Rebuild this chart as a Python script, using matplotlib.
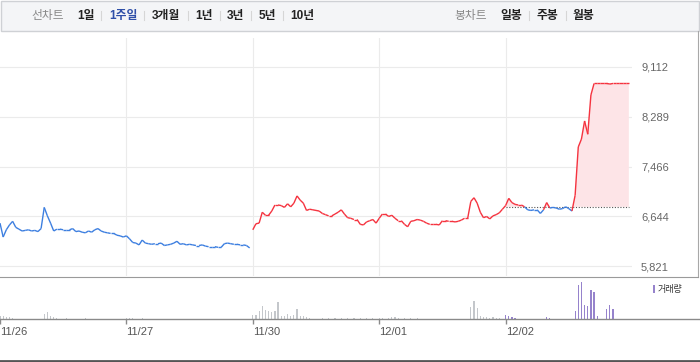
import matplotlib
matplotlib.use('Agg')
import matplotlib.pyplot as plt
import numpy as np
from matplotlib.collections import LineCollection
from matplotlib.patches import Rectangle

plt.rcParams['font.family'] = ['Liberation Sans', 'Noto Sans CJK KR']

# ---- data (one price / volume per 10 min, 40 points a day) ----
dates = ['11/26', '11/27', '11/30', '12/01', '12/02']

price_1126 = [6530, 6300, 6420, 6500, 6560, 6460, 6430, 6400, 6410, 6420,
              6400, 6410, 6390, 6440, 6790, 6650, 6530, 6400, 6430, 6430,
              6420, 6420, 6420, 6440, 6390, 6400, 6380, 6370, 6400, 6380,
              6420, 6440, 6400, 6380, 6370, 6360, 6360, 6330, 6320, 6300]
price_1127 = [6320, 6270, 6210, 6200, 6170, 6250, 6200, 6190, 6180, 6190,
              6190, 6200, 6160, 6170, 6180, 6200, 6230, 6180, 6190, 6170,
              6180, 6170, 6160, 6160, 6170, 6150, 6140, 6140, 6140, 6130,
              6130, 6190, 6200, 6190, 6180, 6180, 6170, 6170, 6160, 6120]
price_1130 = [6420, 6520, 6530, 6710, 6660, 6660, 6730, 6830, 6830, 6820,
              6790, 6850, 6800, 6860, 6980, 6910, 6860, 6740, 6760, 6750,
              6740, 6730, 6690, 6670, 6650, 6650, 6680, 6710, 6750, 6680,
              6620, 6610, 6590, 6590, 6510, 6500, 6550, 6570, 6590, 6530]
price_1201 = [6610, 6680, 6680, 6640, 6660, 6610, 6570, 6570, 6510, 6470,
              6560, 6570, 6590, 6580, 6560, 6530, 6510, 6510, 6510, 6500,
              6570, 6570, 6560, 6560, 6550, 6560, 6580, 6610, 6610, 6890,
              6950, 6860, 6710, 6620, 6640, 6600, 6650, 6670, 6700, 6760]
price_1202 = [6820, 6940, 6870, 6840, 6830, 6830, 6800, 6750, 6740, 6750,
              6750, 6690, 6750, 6870, 6780, 6790, 6780, 6760, 6770, 6800,
              6770, 6730, 6990, 7790, 7920, 8220, 8000, 8650, 8840, 8840,
              8840, 8840, 8840, 8830, 8840, 8840, 8840, 8840, 8840, 8840]

vol_1126 = [30, 30, 20, 20, 10, 0, 0, 0, 0, 0,
            0, 0, 0, 0, 50, 70, 30, 20, 10, 0,
            0, 10, 0, 0, 0, 0, 0, 10, 0, 0,
            0, 0, 0, 0, 0, 0, 0, 0, 0, 0]
vol_1127 = [10, 10, 10, 0, 0, 10, 0, 0, 0, 0,
            0, 0, 0, 0, 0, 0, 0, 0, 0, 0,
            0, 0, 0, 0, 0, 0, 0, 0, 0, 0,
            0, 0, 0, 0, 0, 0, 0, 0, 0, 0]
vol_1130 = [40, 40, 80, 130, 90, 80, 70, 80, 170, 30,
            30, 50, 30, 40, 100, 30, 30, 20, 10, 0,
            0, 0, 10, 0, 10, 0, 10, 0, 10, 0,
            10, 0, 10, 0, 10, 0, 10, 0, 10, 0]
vol_1201 = [10, 10, 0, 10, 20, 20, 10, 0, 10, 0,
            10, 0, 10, 0, 0, 0, 0, 0, 0, 0,
            0, 0, 0, 0, 0, 0, 0, 0, 0, 120,
            180, 110, 30, 20, 20, 10, 20, 10, 10, 0]
vol_1202 = [40, 30, 20, 10, 0, 0, 0, 0, 0, 0,
            0, 0, 0, 20, 10, 0, 0, 0, 0, 0,
            0, 0, 80, 340, 370, 140, 130, 290, 270, 30,
            0, 0, 100, 140, 100, 0, 0, 0, 0, 0]

base_price = 6800          # previous close of 12/02
y_ticks = [5821, 6644, 7466, 8289, 9112]

line_tabs = ['1일', '1주일', '3개월', '1년', '3년', '5년', '10년']
candle_tabs = ['일봉', '주봉', '월봉']

RED = '#f5333f'
BLUE = '#3d7fe0'
FILL = '#fde4e7'
GRID = '#ebebeb'

# ---- figure in pixel layout ----
W, H = 700, 362
fig = plt.figure(figsize=(7, 3.62), dpi=100)


def box(x0, y0, x1, y1):
    return [x0 / W, 1 - y1 / H, (x1 - x0) / W, (y1 - y0) / H]


bg = fig.add_axes([0, 0, 1, 1])
bg.set_xlim(0, W)
bg.set_ylim(H, 0)
bg.axis('off')

# header bar
bg.add_patch(Rectangle((0.5, 0.5), 698, 30, facecolor='#f4f5f7',
                       edgecolor='#cfd1d5', lw=1))
bg.text(48, 15.5, '선차트', ha='center', va='center', fontsize=8.5, color='#888')
tab_x = [86, 123, 166, 204, 235, 267, 302]
sep_x = [101, 144, 188, 220, 251, 283]
for t, x in zip(line_tabs, tab_x):
    bg.text(x, 15.5, t, ha='center', va='center', fontsize=8.5, fontweight='bold',
            color='#2f4fa8' if t == '1주일' else '#222')
for x in sep_x:
    bg.plot([x, x], [11, 20], color='#d6d6d6', lw=0.8)

bg.text(471, 15.5, '봉차트', ha='center', va='center', fontsize=8.5, color='#888')
ctab_x = [511, 547, 583]
csep_x = [529, 566]
for t, x in zip(candle_tabs, ctab_x):
    bg.text(x, 15.5, t, ha='center', va='center', fontsize=8.5, fontweight='bold', color='#222')
for x in csep_x:
    bg.plot([x, x], [11, 20], color='#d6d6d6', lw=0.8)

# frame lines
bg.plot([697.5, 697.5], [31, 277], color='#a8a8a8', lw=0.8)
bg.plot([0, 698], [276.5, 276.5], color='#9a9a9a', lw=0.8)
bg.plot([0, 700], [360.5, 360.5], color='#555555', lw=2)

# legend
bg.add_patch(Rectangle((652.5, 285), 2.5, 8, facecolor='#9683cc', lw=0))
bg.text(658, 289.5, '거래량', ha='left', va='center', fontsize=6.5, color='#333')

# ---- price panel ----
prices = [price_1126, price_1127, price_1130, price_1201, price_1202]
day_len = len(price_1126)
n = day_len * len(prices)
xs = np.arange(n)
ys = np.concatenate(prices).astype(float)

ax = fig.add_axes(box(0, 38, 632, 276))
ax.patch.set_alpha(0)
ax.set_xlim(0, n)
step = (9112 - 5821) / 199.0
ax.set_ylim(5821 - 10 * step, 9112 + 29 * step)
for s in ax.spines.values():
    s.set_visible(False)
ax.set_xticks([d * day_len for d in range(1, len(prices))])
ax.set_yticks(y_ticks)
ax.set_yticklabels([f'{v:,}' for v in y_ticks])
ax.grid(True, color=GRID, lw=0.8)
ax.set_axisbelow(True)
ax.yaxis.tick_right()
ax.tick_params(axis='x', length=0, labelbottom=False)
ax.tick_params(axis='y', length=0, pad=6.5, labelsize=8, labelcolor='#666')

segs, cols = [], []
for i in range(n - 1):
    d = i // day_len
    if i == 2 * day_len - 1:
        continue  # price gap between 11/27 and 11/30
    segs.append([(xs[i], ys[i]), (xs[i + 1], ys[i + 1])])
    if d < 2:
        cols.append(BLUE)
    elif d < 4:
        cols.append(RED)
    else:
        cols.append(RED if (ys[i] + ys[i + 1]) / 2 >= base_price else BLUE)
ax.add_collection(LineCollection(segs, colors=cols, linewidths=1.0, zorder=3))

x5 = xs[4 * day_len:]
y5 = ys[4 * day_len:]
ax.fill_between(x5, y5, base_price, where=y5 >= base_price, interpolate=True,
                color=FILL, lw=0, zorder=1)
ax.hlines(base_price, x5[0], x5[-1], colors='#555', linestyles=(0, (1, 1.5)),
          lw=0.8, zorder=2)

# ---- volume panel ----
vols = np.concatenate([vol_1126, vol_1127, vol_1130, vol_1201, vol_1202])
vax = fig.add_axes(box(0, 277, 700, 319))
vax.patch.set_alpha(0)
vax.set_xlim(0, n * 700 / 632)
vax.set_ylim(0, 420)
bar_cols = ['#c4c7cb' if i < 4 * day_len else '#9683cc' for i in range(n)]
vax.bar(xs, vols, width=0.38, color=bar_cols, lw=0)
for k in ['top', 'right', 'left']:
    vax.spines[k].set_visible(False)
vax.spines['bottom'].set_color('#8a8a8a')
vax.spines['bottom'].set_linewidth(1)
vax.set_yticks([])
vax.set_xticks([d * day_len for d in range(len(dates))])
vax.set_xticklabels(dates)
vax.tick_params(axis='x', direction='out', length=3.5, width=1, color='#8a8a8a',
                labelsize=8, labelcolor='#555', pad=2)
for lab in vax.get_xticklabels():
    lab.set_ha('left')

fig.savefig('out.png', dpi=100)
